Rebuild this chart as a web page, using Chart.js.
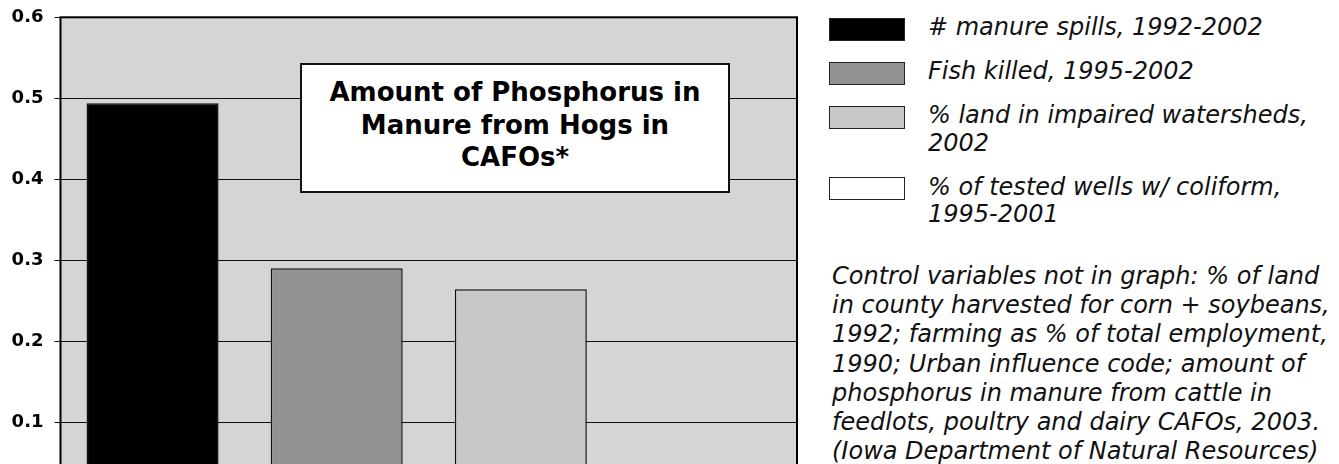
<!DOCTYPE html>
<html>
<head>
<meta charset="utf-8">
<script src="https://cdn.jsdelivr.net/npm/chart.js@4/dist/chart.umd.min.js"></script>
<style>
    body { margin: 0; background: #fff; overflow: hidden; font-family: "DejaVu Sans", Verdana, sans-serif; }
    #pagina { position: relative; width: 1339px; height: 464px; overflow: hidden; }
    #cajaGrafico { position: absolute; left: 0; top: 0; width: 800px; height: 520px; }
    #titulo {
        position: absolute; left: 300px; top: 63px; width: 426px; height: 115px;
        background: #fff; border: 2px solid #111; text-align: center;
        font-weight: bold; font-size: 26px; line-height: 32.5px; padding-top: 11px; box-sizing: content-box;
    }
    #leyenda { position: absolute; left: 829px; top: 14px; width: 510px; }
    .item { position: relative; padding-left: 99px; margin-bottom: 16.5px; font-style: italic; font-size: 24px; line-height: 27.5px; width: 400px; color: #111; }
    .muestra { position: absolute; left: 0; top: 3.5px; width: 74px; height: 21px; border: 1.5px solid #222; }
    #nota { position: absolute; left: 832px; top: 262px; font-style: italic; font-size: 24px; line-height: 29.2px; color: #111; white-space: nowrap; }
</style>
</head>
<body>
<div id="pagina">
    <div id="cajaGrafico"><canvas id="grafico"></canvas></div>
    <div id="titulo"></div>
    <div id="leyenda"></div>
    <div id="nota"></div>
</div>
<script>
    const categorias = [
        "# manure spills, 1992-2002",
        "Fish killed, 1995-2002",
        "% land in impaired watersheds, 2002",
        "% of tested wells w/ coliform, 1995-2001"
    ];
    const valores = [0.494, 0.2905, 0.2646, 0.03];
    const colores = ["#000000", "#929292", "#c8c8c8", "#ffffff"];
    const marcasY = [0, 0.1, 0.2, 0.3, 0.4, 0.5, 0.6];

    const lineasTitulo = ["Amount of Phosphorus in", "Manure from Hogs in", "CAFOs*"];
    const lineasNota = [
        "Control variables not in graph: % of land",
        "in county harvested for corn + soybeans,",
        "1992; farming as % of total employment,",
        "1990; Urban influence code; amount of",
        "phosphorus in manure from cattle in",
        "feedlots, poultry and dairy CAFOs, 2003.",
        "(Iowa Department of Natural Resources)"
    ];

    document.getElementById("titulo").innerHTML = lineasTitulo.join("<br>");
    document.getElementById("nota").innerHTML = lineasNota.join("<br>");

    const leyenda = document.getElementById("leyenda");
    categorias.forEach((cat, i) => {
        const div = document.createElement("div");
        div.className = "item";
        const sw = document.createElement("span");
        sw.className = "muestra";
        sw.style.background = colores[i];
        div.appendChild(sw);
        div.appendChild(document.createTextNode(cat));
        leyenda.appendChild(div);
    });

    // fondo gris del area de trazado y marco negro
    const fondoPlot = {
        id: "fondoPlot",
        beforeDraw(chart) {
            const { ctx, chartArea: a } = chart;
            ctx.save();
            ctx.fillStyle = "#d5d5d5";
            ctx.fillRect(a.left, a.top, a.right - a.left, a.bottom - a.top);
            ctx.restore();
        },
        afterDraw(chart) {
            const { ctx, chartArea: a } = chart;
            ctx.save();
            ctx.strokeStyle = "#000";
            ctx.lineWidth = 2;
            ctx.strokeRect(a.left, a.top, a.right - a.left, a.bottom - a.top);
            ctx.restore();
        }
    };

    new Chart(document.getElementById("grafico"), {
        type: "bar",
        data: {
            labels: categorias,
            datasets: [{
                data: valores,
                backgroundColor: colores,
                borderColor: "#111",
                borderWidth: 1.5,
                categoryPercentage: 1,
                barPercentage: 0.717
            }]
        },
        options: {
            responsive: true,
            maintainAspectRatio: false,
            animation: false,
            layout: { padding: { top: 17.3, right: 3, bottom: 16.2, left: 0 } },
            plugins: {
                legend: { display: false },
                tooltip: { enabled: false }
            },
            scales: {
                x: {
                    display: false
                },
                y: {
                    min: 0,
                    max: 0.6,
                    afterFit: s => {
                        s.width = 60.5;
                        s.paddingTop = 0;
                        s.paddingBottom = 0;
                    },
                    afterBuildTicks: s => { s.ticks = marcasY.map(v => ({ value: v })); },
                    border: { display: false },
                    grid: { color: "#111", lineWidth: 1, tickLength: 6 },
                    ticks: {
                        padding: 11,
                        color: "#000",
                        font: { family: "DejaVu Sans", weight: "bold", size: 18 },
                        callback: v => v.toFixed(1)
                    }
                }
            }
        },
        plugins: [fondoPlot]
    });
</script>
</body>
</html>
